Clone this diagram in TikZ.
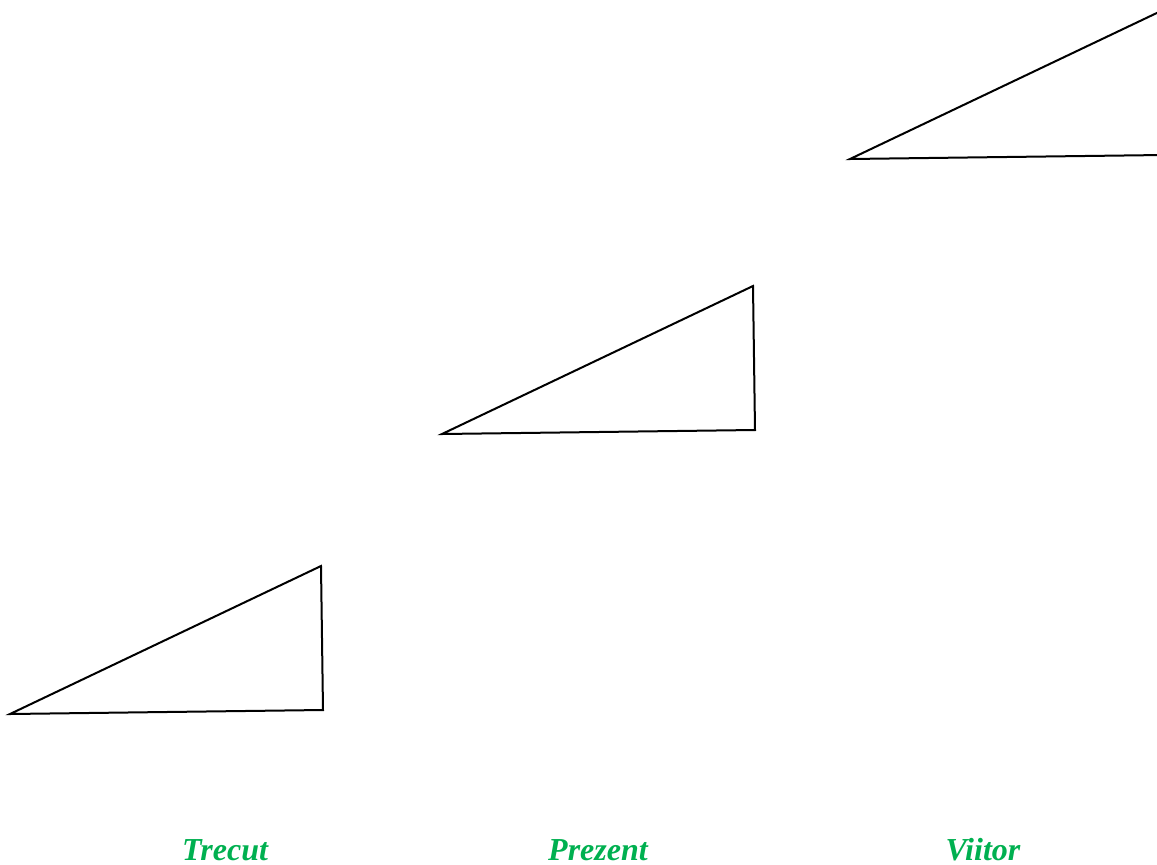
\documentclass[tikz,border=0pt]{standalone}
\usepackage{fontspec}
\setmainfont{Liberation Serif}
\definecolor{lblgreen}{HTML}{00B050}
\tikzset{
  tri/.style={draw=black, line width=2pt, line join=miter},
  lbl/.style={text=lblgreen, font=\fontsize{32}{38}\selectfont\bfseries\itshape, anchor=base, inner sep=0pt}
}
\begin{document}
\begin{tikzpicture}[x=1pt,y=-1pt]
\useasboundingbox (0,0) rectangle (1157,865);
\clip (0,0) rectangle (1157,865);
% triangle: past
\coordinate (a1) at (10,714);
\coordinate (b1) at (321,566);
\coordinate (c1) at (323,710);
\draw[tri] (a1) -- (b1) -- (c1) -- cycle;
% triangle: present
\coordinate (a2) at (442,434);
\coordinate (b2) at (753,286);
\coordinate (c2) at (755,430);
\draw[tri] (a2) -- (b2) -- (c2) -- cycle;
% triangle: future (cut by page edge)
\coordinate (a3) at (850,159);
\coordinate (b3) at (1161,11);
\coordinate (c3) at (1163,155);
\draw[tri] (a3) -- (b3) -- (c3) -- cycle;
% labels
\node[lbl] (trecut) at (225,860) {Trecut};
\node[lbl] (prezent) at (598,860) {Prezent};
\node[lbl] (viitor) at (983,860) {Viitor};
\end{tikzpicture}
\end{document}
